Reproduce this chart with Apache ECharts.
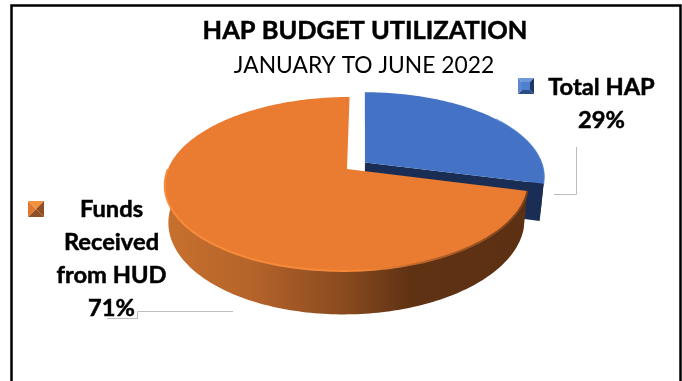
<!DOCTYPE html>
<html>
<head>
<meta charset="utf-8">
<style>html,body{margin:0;padding:0;background:#fff}#c{width:682px;height:381px}</style>
<script src="https://cdn.jsdelivr.net/npm/echarts@6/dist/echarts.min.js"></script>
</head>
<body>
<div id="c"></div>
<script>
const categories = ['Total HAP', 'Funds Received from HUD'];
const labelLines = [['Total HAP'], ['Funds', 'Received', 'from HUD']];
const values = [29, 71];

const titleText = 'HAP BUDGET UTILIZATION';
const subtitleText = 'JANUARY TO JUNE 2022';

// Tilted disc: unit-circle coordinates are carried to the screen by a perspective map.
const apexX = 347, apexY = 169, spanX = 179, spanY = 84.4, tilt = 0.172, skew = 3;
const thickness = 36, baseShrink = 0.98;
const explode = 0.127;

function project(c, d, lowered) {
  const w = 1 + tilt * d;
  const sx = lowered ? spanX * baseShrink : spanX;
  return [
    apexX + (sx * c + skew * d) / w,
    apexY - spanY * d / w + (lowered ? thickness / w : 0)
  ];
}

// Angles run clockwise from twelve o'clock.
function rimPoints(a0, a1, ox, oy, lowered) {
  const pts = [];
  const steps = Math.max(2, Math.ceil((a1 - a0) / 0.02));
  for (let i = 0; i <= steps; i++) {
    const a = a0 + (a1 - a0) * i / steps;
    pts.push(project(Math.sin(a) + ox, Math.cos(a) + oy, lowered));
  }
  return pts;
}

const hGrad = (x0, x1, stops) => ({
  type: 'linear', global: true, x: x0, y: 0, x2: x1, y2: 0,
  colorStops: stops.map(s => ({ offset: s[0], color: s[1] }))
});

// Legend key with bevelled faces: top, right, bottom, left, plus an optional inner square.
function swatch(x, y, size, colors, inner) {
  const m = [x + size / 2, y + size / 2];
  const corners = [[x, y], [x + size, y], [x + size, y + size], [x, y + size]];
  const parts = corners.map((p, i) => ({
    type: 'polygon',
    shape: { points: [p, corners[(i + 1) % 4], m] },
    style: { fill: colors[i] }
  }));
  if (inner) {
    parts.push({
      type: 'rect',
      shape: { x: x + 4, y: y + 4, width: size - 8, height: size - 8 },
      style: { fill: inner }
    });
  }
  return parts;
}

function textBlock(lines, cx, firstY, lineStep) {
  return lines.map((t, i) => ({
    type: 'text',
    style: {
      text: t, x: cx, y: firstY + i * lineStep,
      align: 'center', verticalAlign: 'middle',
      font: 'bold 23.7px Lato, sans-serif', fill: '#000',
      stroke: '#000', lineWidth: 0.5
    }
  }));
}

const total = values.reduce((a, b) => a + b, 0);

function renderSlice(params, api) {
  const idx = params.dataIndex;
  const before = values.slice(0, idx).reduce((a, b) => a + b, 0);
  const a0 = before / total * Math.PI * 2;
  const a1 = (before + api.value(1)) / total * Math.PI * 2;
  const children = [];
  const pct = Math.round(api.value(1) / total * 100) + '%';

  if (idx === 0) {
    // Pulled-out slice: offset along its bisector.
    const mid = (a0 + a1) / 2;
    const ox = Math.sin(mid) * explode, oy = Math.cos(mid) * explode;
    const top = rimPoints(a0, a1, ox, oy, false);
    const apex = project(ox, oy, false);
    const apexLow = project(ox, oy, true);
    const endTop = top[top.length - 1];
    const endLow = project(Math.sin(a1) + ox, Math.cos(a1) + oy, true);
    children.push({
      type: 'polygon',
      shape: { points: [apex, endTop, endLow, apexLow] },
      style: { fill: '#1a2e55' }
    });
    const sideA = rimPoints(a0 + 1.0, a1, ox, oy, false);
    const sideB = rimPoints(a0 + 1.0, a1, ox, oy, true).reverse();
    children.push({
      type: 'polygon',
      shape: { points: sideA.concat(sideB) },
      style: { fill: '#1a2e55' }
    });
    children.push({
      type: 'polygon',
      shape: { points: [apex].concat(top) },
      style: { fill: '#4472c4' }
    });
    children.push({
      type: 'polyline',
      shape: { points: rimPoints(a0 + 0.95, a1, ox, oy, false) },
      style: { fill: 'none', stroke: '#5a8ad6', lineWidth: 1.2, opacity: 0.7 }
    });
    children.push.apply(children, swatch(518, 78, 16, ['#6f97dc', '#1f3764', '#2c4c88', '#5d86cf'], '#4f7fd0'));
    children.push.apply(children, textBlock(labelLines[idx].concat(pct), 601.5, 87, 33));
  } else {
    const top = rimPoints(a0, a1, 0, 0, false);
    const apex = project(0, 0, false);
    const sideEnd = Math.PI * 1.5;
    const sideA = rimPoints(a0, sideEnd, 0, 0, false);
    const sideB = rimPoints(a0, sideEnd, 0, 0, true).reverse();
    children.push({
      type: 'polygon',
      shape: { points: sideA.concat(sideB) },
      style: {
        fill: hGrad(163, 526, [
          [0, '#c9712e'], [0.25, '#b4632a'], [0.5, '#8a4a1f'],
          [0.68, '#5f3214'], [1, '#5c3012']
        ])
      }
    });
    children.push({
      type: 'polygon',
      shape: { points: top.concat([apex]) },
      style: { fill: '#ea7c31' }
    });
    // Bevel along the front edge: bright on the left, shaded towards the right.
    children.push({
      type: 'polyline',
      shape: { points: rimPoints(a0, sideEnd, 0, 0, false) },
      style: {
        fill: 'none', lineWidth: 2,
        stroke: hGrad(163, 526, [
          [0, '#f98c3c'], [0.55, '#f58837'], [0.72, '#b9652a'], [1, '#7a421b']
        ])
      }
    });
    children.push.apply(children, swatch(28, 201, 16, ['#f4913f', '#8f5023', '#8f5023', '#e0792e']));
    children.push.apply(children, textBlock(labelLines[idx].concat(pct), 111.5, 209, 33));
  }
  return { type: 'group', children };
}

const chart = echarts.init(document.getElementById('c'), null, { renderer: 'canvas' });
chart.setOption({
  animation: false,
  backgroundColor: '#fff',
  title: [
    {
      text: titleText, left: 360, top: 13, textAlign: 'center',
      textStyle: { fontFamily: 'Lato', fontWeight: 'bold', fontSize: 25.4, color: '#000', textBorderColor: '#000', textBorderWidth: 0.5 }
    },
    {
      text: subtitleText, left: 359, top: 49, textAlign: 'center',
      textStyle: { fontFamily: 'Lato', fontWeight: 'normal', fontSize: 22.8, color: '#000' }
    }
  ],
  graphic: [
    { type: 'polyline', shape: { points: [[11.5, 381], [11.5, 5.5], [680.5, 5.5], [680.5, 381]] },
      style: { fill: 'none', stroke: '#000', lineWidth: 2.5 }, silent: true },
    { type: 'polyline', shape: { points: [[554, 194.5], [576.5, 194.5], [576.5, 147]] },
      style: { fill: 'none', stroke: '#bdbdbd', lineWidth: 1 }, silent: true },
    { type: 'polyline', shape: { points: [[233, 311.5], [137.5, 311.5], [137.5, 318.5], [107, 318.5]] },
      style: { fill: 'none', stroke: '#bdbdbd', lineWidth: 1 }, silent: true }
  ],
  series: [{
    type: 'custom',
    coordinateSystem: 'none',
    renderItem: renderSlice,
    silent: true,
    data: categories.map((name, i) => ({ name, value: [i, values[i]] }))
  }]
});
</script>
</body>
</html>
